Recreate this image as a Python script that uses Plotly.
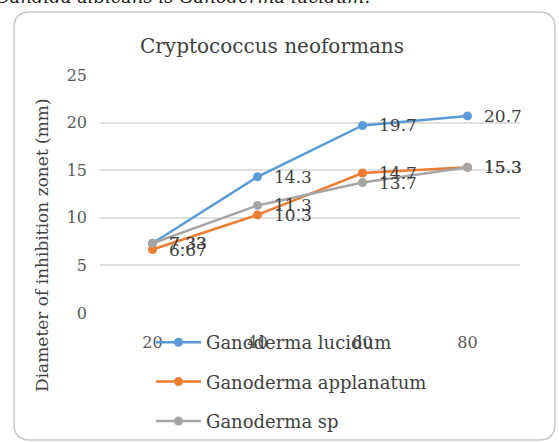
import plotly.graph_objects as go

# ---- data ----
concentrations = ["20", "40", "60", "80"]
g_lucidum = [7.33, 14.3, 19.7, 20.7]
g_applanatum = [6.67, 10.3, 14.7, 15.3]
g_sp = [7.33, 11.3, 13.7, 15.3]
series_names = ["Ganoderma lucidum", "Ganoderma applanatum", "Ganoderma sp"]
series_colors = ["#5B9BD5", "#ED7D31", "#A5A5A5"]
y_ticks = [0, 5, 10, 15, 20, 25]
title_text = "Cryptococcus neoformans"
y_title = "Diameter of inhibition zonet (mm)"
caption = "Candida albicans is Ganoderma lucidum."

# ---- layout geometry (pixels) ----
W, H = 559, 442
L, R, T, B = 100, 520, 75, 313
FONT = "DejaVu Serif"


def px(x):
    return (x - L) / (R - L)


def py(y):
    return (B - y) / (B - T)


fig = go.Figure()
all_series = [g_lucidum, g_applanatum, g_sp]
for i, (name, vals, col) in enumerate(zip(series_names, all_series, series_colors)):
    fig.add_trace(go.Scatter(
        x=concentrations, y=vals, name=name, mode="lines+markers",
        line=dict(color=col, width=2.5),
        marker=dict(color=col, size=9),
        legendgroup="g%d" % i,
    ))

annotations = []
for vals in all_series:
    for idx, v in enumerate(vals):
        annotations.append(dict(
            x=idx, y=v, xref="x", yref="y", text=f"{v:g}", showarrow=False,
            xanchor="left", yanchor="middle", xshift=14,
            font=dict(family=FONT, size=17, color="#404040"),
        ))

annotations.append(dict(
    x=px(272), y=py(46), xref="paper", yref="paper", text=title_text,
    showarrow=False, xanchor="center", yanchor="middle",
    font=dict(family=FONT, size=20, color="#404040"),
))
annotations.append(dict(
    x=px(42), y=py(245), xref="paper", yref="paper", text=y_title,
    showarrow=False, xanchor="center", yanchor="middle", textangle=-90,
    font=dict(family=FONT, size=17, color="#404040"),
))
annotations.append(dict(
    x=px(-6), y=py(-3.5), xref="paper", yref="paper", text="<i>" + caption + "</i>",
    showarrow=False, xanchor="left", yanchor="middle",
    font=dict(family=FONT, size=18, color="#222222"),
))

# rounded border
x0, y0, x1, y1, r = 14, 12, 555, 440, 16
path = (
    f"M {px(x0 + r)} {py(y0)} L {px(x1 - r)} {py(y0)} "
    f"Q {px(x1)} {py(y0)} {px(x1)} {py(y0 + r)} "
    f"L {px(x1)} {py(y1 - r)} Q {px(x1)} {py(y1)} {px(x1 - r)} {py(y1)} "
    f"L {px(x0 + r)} {py(y1)} Q {px(x0)} {py(y1)} {px(x0)} {py(y1 - r)} "
    f"L {px(x0)} {py(y0 + r)} Q {px(x0)} {py(y0)} {px(x0 + r)} {py(y0)} Z"
)
shapes = [dict(type="path", xref="paper", yref="paper", path=path,
               line=dict(color="#C8C8C8", width=1.5), layer="below")]

fig.update_layout(
    width=W, height=H,
    margin=dict(l=L, r=W - R, t=T, b=H - B, autoexpand=False),
    paper_bgcolor="white", plot_bgcolor="white",
    showlegend=True,
    legend=dict(
        x=px(151), y=py(324), xanchor="left", yanchor="top",
        bgcolor="rgba(0,0,0,0)", traceorder="grouped", tracegroupgap=13,
        itemwidth=45,
        font=dict(family=FONT, size=18, color="#404040"),
    ),
    annotations=annotations,
    shapes=shapes,
    xaxis=dict(
        type="category", categoryorder="array", categoryarray=concentrations,
        range=[-0.5, 3.5], showgrid=False, zeroline=False, showline=False,
        ticks="", ticklabelstandoff=18,
        tickfont=dict(family=FONT, size=16, color="#595959"),
    ),
    yaxis=dict(
        range=[0, 25], tickvals=y_ticks, showgrid=True, gridcolor="#E0E0E0",
        gridwidth=1.5, zeroline=False, showline=False, ticks="",
        ticklabelstandoff=12,
        tickfont=dict(family=FONT, size=16, color="#595959"),
    ),
)

fig.write_html("out.html", config={"displayModeBar": False},
               post_script="document.body.style.margin='0';")
